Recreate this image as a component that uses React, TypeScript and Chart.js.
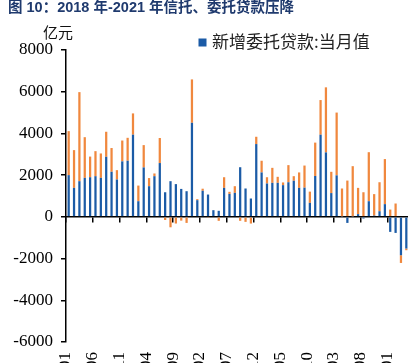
import React, { useEffect, useRef } from "react";
import { Chart, registerables } from "chart.js";

Chart.register(...registerables);

const TITLE = "图 10：2018 年-2021 年信托、委托贷款压降";
const UNIT = "亿元";
const LEGEND_LABEL = "新增委托贷款:当月值";

const months: string[] = [
  "2016-01", "2016-02", "2016-03", "2016-04", "2016-05", "2016-06", "2016-07", "2016-08", "2016-09", "2016-10", "2016-11", "2016-12",
  "2017-01", "2017-02", "2017-03", "2017-04", "2017-05", "2017-06", "2017-07", "2017-08", "2017-09", "2017-10", "2017-11", "2017-12",
  "2018-01", "2018-02", "2018-03", "2018-04", "2018-05", "2018-06", "2018-07", "2018-08", "2018-09", "2018-10", "2018-11", "2018-12",
  "2019-01", "2019-02", "2019-03", "2019-04", "2019-05", "2019-06", "2019-07", "2019-08", "2019-09", "2019-10", "2019-11", "2019-12",
  "2020-01", "2020-02", "2020-03", "2020-04", "2020-05", "2020-06", "2020-07", "2020-08", "2020-09", "2020-10", "2020-11", "2020-12",
  "2021-01", "2021-02", "2021-03", "2021-04",
];

// 新增委托贷款:当月值 (blue)
const entrustedLoans: number[] = [
  2000, 1390, 1710, 1870, 1900, 1950, 1870, 2880, 2160, 1790, 2660, 2690,
  3940, 750, 2370, 1470, 1950, 2580, 1180, 1710, 1570, 1340, 1230, 4510,
  800, 1250, 1070, 320, 290, 1390, 1100, 1150, 2380, 1360, 880, 3490,
  2130, 1600, 1630, 1630, 1520, 1660, 1730, 1390, 1400, 670, 1960, 3940,
  3090, 1140, 1990, 20, -290, 20, 130, -80, 750, 60, 270, 610,
  -720, -770, -1840, -1520,
];

// second stacked series (orange)
const trustLoans: number[] = [
  2110, 1810, 4270, 1950, 990, 1200, 1170, 1200, 1140, 450, 1000, 1100,
  1020, 750, 1070, 390, 130, 1200, -150, -500, -320, -180, -290, 2080,
  50, 100, -50, 0, -190, 510, 100, 320, -190, -240, -320, 350,
  560, 300, 720, 290, 130, 820, 220, 740, 1060, 540, 1600, 1660,
  3120, 1020, 3010, 1340, 1740, 2410, 1260, 1180, 2350, 1030, 1390, 2160,
  350, 640, -370, -80,
];

const BLUE = "#1B5BA6";
const ORANGE = "#F0883E";
const TITLE_COLOR = "#1F3A6E";
const SERIF = '"Liberation Serif", "DejaVu Serif", serif';
const CJK = '"Noto Sans CJK SC", "Noto Sans", sans-serif';

const overlayPlugin = {
  id: "overlay",
  afterDraw(chart: any) {
    const ctx = chart.ctx;
    ctx.save();
    ctx.textAlign = "left";
    ctx.textBaseline = "middle";
    ctx.fillStyle = TITLE_COLOR;
    ctx.font = 'bold 14.5px "Liberation Sans", "Noto Sans CJK SC", sans-serif';
    ctx.fillText(TITLE, 8, 8);
    ctx.fillStyle = "#111";
    ctx.font = "15px " + CJK;
    ctx.fillText(UNIT, 43, 32);
    ctx.fillStyle = BLUE;
    ctx.fillRect(198.5, 38.5, 8, 8);
    ctx.fillStyle = "#222";
    ctx.font = "17px " + CJK;
    ctx.fillText(LEGEND_LABEL, 212, 42);
    ctx.restore();
  },
};

export default function App() {
  const ref = useRef<HTMLCanvasElement | null>(null);

  useEffect(() => {
    document.body.style.margin = "0";
    const canvas = ref.current;
    if (!canvas) return;
    const chart = new Chart(canvas, {
      type: "bar",
      data: {
        labels: months,
        datasets: [
          {
            label: LEGEND_LABEL,
            data: entrustedLoans,
            backgroundColor: BLUE,
            borderWidth: 0,
            categoryPercentage: 1,
            barPercentage: 0.42,
          },
          {
            label: "trust",
            data: trustLoans,
            backgroundColor: ORANGE,
            borderWidth: 0,
            categoryPercentage: 1,
            barPercentage: 0.42,
          },
        ],
      },
      options: {
        responsive: false,
        animation: false,
        devicePixelRatio: 1,
        layout: { padding: { top: 50, left: 0, right: 0, bottom: 0 } },
        plugins: {
          legend: { display: false },
          tooltip: { enabled: false },
          title: { display: false },
        },
        scales: {
          x: {
            type: "category",
            position: "bottom",
            stacked: true,
            offset: true,
            grid: { display: false, drawTicks: false },
            border: { display: false },
            ticks: {
              autoSkip: false,
              maxRotation: 90,
              minRotation: 90,
              padding: 10,
              labelOffset: -2.7,
              color: "#000",
              font: { family: SERIF, size: 17 },
              callback: (_v: any, i: number) => (i % 5 === 0 ? months[i] : ""),
            },
            afterFit: (s: any) => {
              s.height = 80;
              s.paddingLeft = 0;
              s.paddingRight = 0;
            },
          },
          x2: {
            type: "category",
            axis: "x",
            position: { y: 0 },
            offset: true,
            grid: {
              offset: true,
              drawOnChartArea: false,
              drawTicks: true,
              tickLength: 5,
              lineWidth: 1.5,
              color: (c: any) => (c.index % 5 === 0 ? "#000" : "rgba(0,0,0,0)"),
            },
            border: { display: true, color: "#000", width: 1.5 },
            ticks: { display: false },
            afterFit: (s: any) => {
              s.paddingLeft = 0;
              s.paddingRight = 0;
            },
          },
          y: {
            type: "linear",
            position: "left",
            stacked: true,
            min: -6000,
            max: 8000,
            grid: {
              drawOnChartArea: false,
              drawTicks: true,
              tickLength: 5,
              lineWidth: 1.5,
              color: "#000",
            },
            border: { display: true, color: "#000", width: 1.5 },
            ticks: {
              stepSize: 2000,
              padding: 8,
              color: "#000",
              font: { family: SERIF, size: 17 },
              callback: (v: any) => String(v),
            },
            afterFit: (s: any) => {
              s.width = 66;
              s.paddingTop = 0;
              s.paddingBottom = 0;
            },
          },
        },
      } as any,
      plugins: [overlayPlugin],
    });
    return () => chart.destroy();
  }, []);

  return (
    <div style={{ position: "relative", width: 408, height: 363, overflow: "hidden", background: "#fff" }}>
      <canvas ref={ref} width={409} height={422} style={{ display: "block" }} />
    </div>
  );
}
